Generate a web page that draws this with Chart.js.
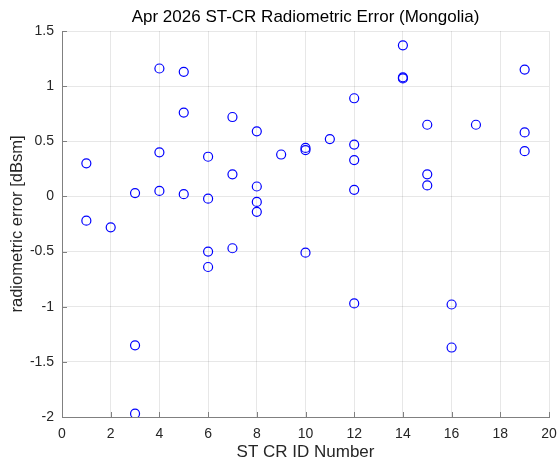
<!DOCTYPE html>
<html>
<head>
<meta charset="utf-8">
<script src="https://cdn.jsdelivr.net/npm/chart.js@4"></script>
<style>
  html, body { margin: 0; padding: 0; background: #fff; }
  #wrap { width: 559px; height: 466px; }
</style>
</head>
<body>
<div id="wrap"><canvas id="errChart"></canvas></div>
<script>
// ---------------- data ----------------
const crId = [1, 1, 2, 3, 3, 3, 4, 4, 4, 5, 5, 5, 6, 6, 6, 6, 7, 7, 7,
              8, 8, 8, 8, 9, 10, 10, 10, 11, 12, 12, 12, 12, 12,
              14, 14, 14, 15, 15, 15, 16, 16, 17, 19, 19, 19];
const radError = [0.30, -0.22, -0.28, 0.03, -1.35, -1.97, 1.16, 0.40, 0.05, 1.13, 0.76, 0.02,
                  0.36, -0.02, -0.50, -0.64, 0.72, 0.20, -0.47,
                  0.59, 0.09, -0.05, -0.14, 0.38, 0.44, 0.42, -0.51, 0.52,
                  0.89, 0.47, 0.33, 0.06, -0.97,
                  1.37, 1.08, 1.07, 0.65, 0.20, 0.10, -0.98, -1.37, 0.65,
                  1.15, 0.58, 0.41];
const xTicks = [0, 2, 4, 6, 8, 10, 12, 14, 16, 18, 20];
const yTicks = [-2, -1.5, -1, -0.5, 0, 0.5, 1, 1.5];

const titleText = "Apr 2026 ST-CR Radiometric Error (Mongolia)";

const points = crId.map((x, i) => ({ x: x, y: radError[i] }));

const FONT = "'Liberation Sans', Arial, Helvetica, sans-serif";
const TXT = "#262626";
const AXIS = "#808080";
const GRID = "rgba(38,38,38,0.11)";

// title centred over the plot area, inward tick marks
const matlabLook = {
    id: "matlabLook",
    afterDraw(chart) {
        const ctx = chart.ctx;
        const a = chart.chartArea;
        const xs = chart.scales.x;
        const ys = chart.scales.y;

        ctx.save();
        ctx.strokeStyle = AXIS;
        ctx.lineWidth = 1;
        ctx.beginPath();
        xTicks.forEach(v => {
            const px = Math.round(xs.getPixelForValue(v)) + 0.5;
            ctx.moveTo(px, a.bottom);
            ctx.lineTo(px, a.bottom - 5);
        });
        yTicks.forEach(v => {
            const py = Math.round(ys.getPixelForValue(v)) + 0.5;
            ctx.moveTo(a.left, py);
            ctx.lineTo(a.left + 5, py);
        });
        ctx.stroke();

        ctx.fillStyle = "#000";
        ctx.font = "17px " + FONT;
        ctx.textAlign = "center";
        ctx.textBaseline = "middle";
        ctx.fillText(titleText, (a.left + a.right) / 2, 17.5);
        ctx.restore();
    }
};

new Chart(document.getElementById("errChart"), {
    type: "scatter",
    data: {
        datasets: [{
            label: "radiometric error",
            data: points,
            showLine: false,
            pointStyle: "circle",
            pointRadius: 4.5,
            pointHoverRadius: 4.5,
            pointBorderWidth: 1.2,
            pointBorderColor: "#0000ff",
            pointBackgroundColor: "rgba(0,0,0,0)"
        }]
    },
    options: {
        responsive: true,
        maintainAspectRatio: false,
        animation: false,
        layout: { padding: { top: 31, right: 10, left: 0, bottom: 0 } },
        plugins: {
            legend: { display: false },
            tooltip: { enabled: false }
        },
        scales: {
            x: {
                type: "linear",
                min: 0,
                max: 20,
                afterBuildTicks: s => { s.ticks = xTicks.map(v => ({ value: v })); },
                afterFit: s => {
                    s.height = 49;
                    s.paddingLeft = 0;
                    s.paddingRight = 0;
                },
                grid: { color: GRID, drawTicks: false },
                border: { color: AXIS, width: 1 },
                ticks: { color: TXT, font: { family: FONT, size: 14 }, padding: 9, maxRotation: 0 },
                title: {
                    display: true,
                    text: "ST CR ID Number",
                    color: TXT,
                    font: { family: FONT, size: 17 },
                    padding: { top: 3, bottom: 3 }
                }
            },
            y: {
                type: "linear",
                min: -2,
                max: 1.5,
                afterBuildTicks: s => { s.ticks = yTicks.map(v => ({ value: v })); },
                afterFit: s => {
                    s.width = 62;
                    s.paddingTop = 0;
                    s.paddingBottom = 0;
                },
                grid: { color: GRID, drawTicks: false },
                border: { color: AXIS, width: 1 },
                ticks: {
                    color: TXT,
                    font: { family: FONT, size: 14 },
                    padding: 8,
                    callback: v => String(v)
                },
                title: {
                    display: true,
                    text: "radiometric error [dBsm]",
                    color: TXT,
                    font: { family: FONT, size: 16.5 },
                    padding: { top: 7.5, bottom: 7.5 }
                }
            }
        }
    },
    plugins: [matlabLook]
});
</script>
</body>
</html>
